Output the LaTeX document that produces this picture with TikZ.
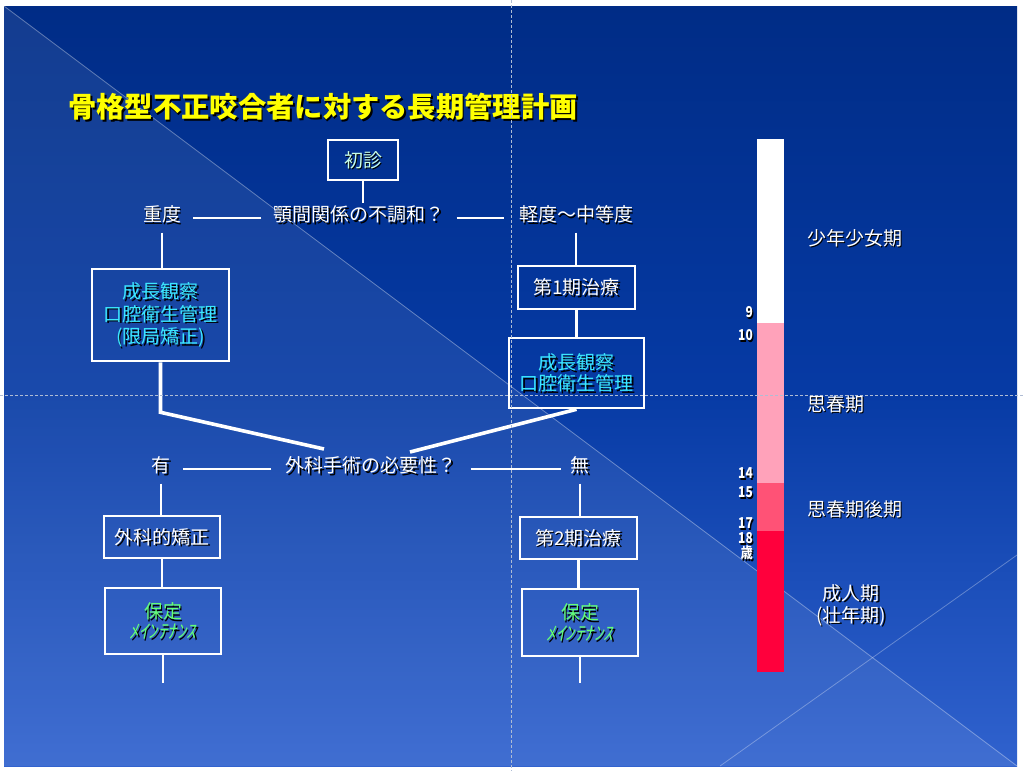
\documentclass[tikz,border=0pt]{standalone}
\usepackage{fontspec}
\setmainfont{Noto Sans CJK JP}
\newfontfamily\jp{Noto Sans CJK JP}
\newfontfamily\jpsl[FakeSlant=0.2]{Noto Sans CJK JP}
\definecolor{bgtop}{RGB}{0,44,134}
\definecolor{bgmid}{RGB}{6,58,164}
\definecolor{bgbot}{RGB}{48,98,206}
\definecolor{cyantxt}{RGB}{60,232,255}
\definecolor{paletxt}{RGB}{200,255,232}
\definecolor{greentxt}{RGB}{100,255,120}
\definecolor{titleyel}{RGB}{255,255,0}
\definecolor{pinkA}{RGB}{255,162,186}
\definecolor{pinkB}{RGB}{255,82,118}
\definecolor{redC}{RGB}{255,0,60}
\definecolor{guidec}{RGB}{175,188,212}
\newcommand{\stext}[4]{%
  \node[#3,text=black,xshift=1.7pt,yshift=-1.7pt] at (#2) {#4};
  \node[#3] (#1) at (#2) {#4};}
\begin{document}
\begin{tikzpicture}[x=1pt,y=-1pt,
  ftxt/.style={text=white, font=\jp\fontsize{19}{22.5}\selectfont, inner xsep=12pt, inner ysep=10pt, text height=0.8em, text depth=0.08em},
  btxt/.style={font=\jp\fontsize{19}{22.5}\selectfont, align=center, inner sep=0pt},
  flowbox/.style={draw=white, line width=2.6pt, inner sep=0pt},
  conn/.style={draw=white, line width=2.6pt},
  diag/.style={draw=white, line width=3.6pt},
  num/.style={text=white, font=\jp\bfseries\fontsize{15}{15}\selectfont, anchor=east, inner sep=0pt, xscale=0.8},
  per/.style={text=white, font=\jp\fontsize{19}{22}\selectfont, inner sep=0pt, align=center},
  ttl/.style={text=titleyel, font=\jp\bfseries\fontsize{28.3}{30}\selectfont, inner sep=0pt},
]
\useasboundingbox (0,0) rectangle (1024,771);
% background
\fill[white] (0,0) rectangle (1024,771);
\shade[top color=bgtop, bottom color=bgbot, middle color=bgmid] (4,6) rectangle (1017,766);
\fill[white, opacity=0.08] (4,6) -- (1017,766) -- (4,766) -- cycle;
\draw[white, opacity=0.35, line width=0.8pt] (4,6) -- (1017,766);
\draw[white, opacity=0.3, line width=0.8pt] (720,766) -- (1017,555);

% title
\stext{title}{323,107}{ttl}{骨格型不正咬合者に対する長期管理計画}

% boxes
\node[flowbox, minimum width=70, minimum height=40] (shoko) at (363,160) {};
\node[flowbox, minimum width=137, minimum height=92] (lbox) at (160.5,315) {};
\node[flowbox, minimum width=117, minimum height=43] (dai1) at (576.5,287.5) {};
\node[flowbox, minimum width=135, minimum height=70] (rbox) at (576.5,373) {};
\node[flowbox, minimum width=116, minimum height=42] (geka) at (162,537) {};
\node[flowbox, minimum width=116, minimum height=66] (hotei1) at (163,621) {};
\node[flowbox, minimum width=117, minimum height=42] (dai2) at (578.5,538) {};
\node[flowbox, minimum width=116, minimum height=67] (hotei2) at (580,622.5) {};

% box texts
\stext{shoko-t}{shoko}{btxt, text=paletxt}{初診}
\stext{lbox-t}{lbox}{btxt, text=cyantxt}{成長観察\\口腔衛生管理\\(限局矯正)}
\stext{dai1-t}{dai1}{btxt, text=white}{第1期治療}
\stext{rbox-t}{rbox}{btxt, text=cyantxt, font=\jp\fontsize{19}{21.5}\selectfont}{成長観察\\口腔衛生管理}
\stext{geka-t}{geka}{btxt, text=white}{外科的矯正}
\stext{dai2-t}{dai2}{btxt, text=white}{第2期治療}
\stext{hotei1-t}{hotei1}{btxt, text=greentxt, font=\jp\fontsize{19}{20.5}\selectfont}{保定\\{\jpsl ﾒｲﾝﾃﾅﾝｽ}}
\stext{hotei2-t}{hotei2}{btxt, text=greentxt, font=\jp\fontsize{19}{20.5}\selectfont}{保定\\{\jpsl ﾒｲﾝﾃﾅﾝｽ}}

% flow texts
\stext{q1}{359,218}{ftxt}{顎間関係の不調和？}
\stext{jyudo}{162,218}{ftxt}{重度}
\stext{keido}{576,218}{ftxt, inner xsep=15pt}{軽度～中等度}
\stext{q2}{371,469}{ftxt, inner xsep=14pt}{外科手術の必要性？}
\stext{ari}{161,469}{ftxt}{有}
\stext{nashi}{580,469}{ftxt, inner xsep=9pt}{無}

% connector ends
\coordinate (jl) at (324,449);
\coordinate (jr) at (410,452);
\coordinate (e1) at (163,683);
\coordinate (e2) at (580,683);

% connectors
\draw[conn] (shoko.south) -- (shoko.south |- q1.north);
\draw[conn] (q1.west) -- (jyudo.east);
\draw[conn] (q1.east) -- (keido.west);
\draw[conn] (jyudo.south) -- (jyudo.south |- lbox.north);
\draw[conn] (keido.south) -- (keido.south |- dai1.north);
\draw[conn] (dai1.south) -- (dai1.south |- rbox.north);
\draw[diag, line join=miter] (lbox.south) -- ++(0,50) -- (jl);
\draw[diag] (rbox.south) -- (jr);
\draw[conn] (q2.west) -- (ari.east);
\draw[conn] (q2.east) -- (nashi.west);
\draw[conn] (ari.south) -- (ari.south |- geka.north);
\draw[conn] (geka.south) -- (geka.south |- hotei1.north);
\draw[conn] (hotei1.south) -- (e1);
\draw[conn] (nashi.south) -- (nashi.south |- dai2.north);
\draw[conn] (dai2.south) -- (dai2.south |- hotei2.north);
\draw[conn] (hotei2.south) -- (e2);

% age bar
\fill[white] (757,139) rectangle (784,323);
\fill[pinkA] (757,323) rectangle (784,483);
\fill[pinkB] (757,483) rectangle (784,531);
\fill[redC] (757,531) rectangle (784,672);

% age numbers
\stext{n9}{753,312}{num}{9}
\stext{n10}{753,335}{num}{10}
\stext{n14}{753,473}{num}{14}
\stext{n15}{753,492}{num}{15}
\stext{n17}{753,523}{num}{17}
\stext{n18}{753,538}{num}{18}
\stext{nsai}{753,553}{num}{歳}

% periods
\stext{p1}{807,238}{per, anchor=west}{少年少女期}
\stext{p2}{807,404}{per, anchor=west}{思春期}
\stext{p3}{807,509}{per, anchor=west}{思春期後期}
\stext{p4}{851,605}{per}{成人期\\(壮年期)}

% guides
\draw[guidec, line width=0.7pt, dash pattern=on 3pt off 2pt] (511,0) -- (511,771);
\draw[guidec, line width=0.7pt, dash pattern=on 3pt off 2pt] (0,395) -- (1024,395);
\end{tikzpicture}
\end{document}
